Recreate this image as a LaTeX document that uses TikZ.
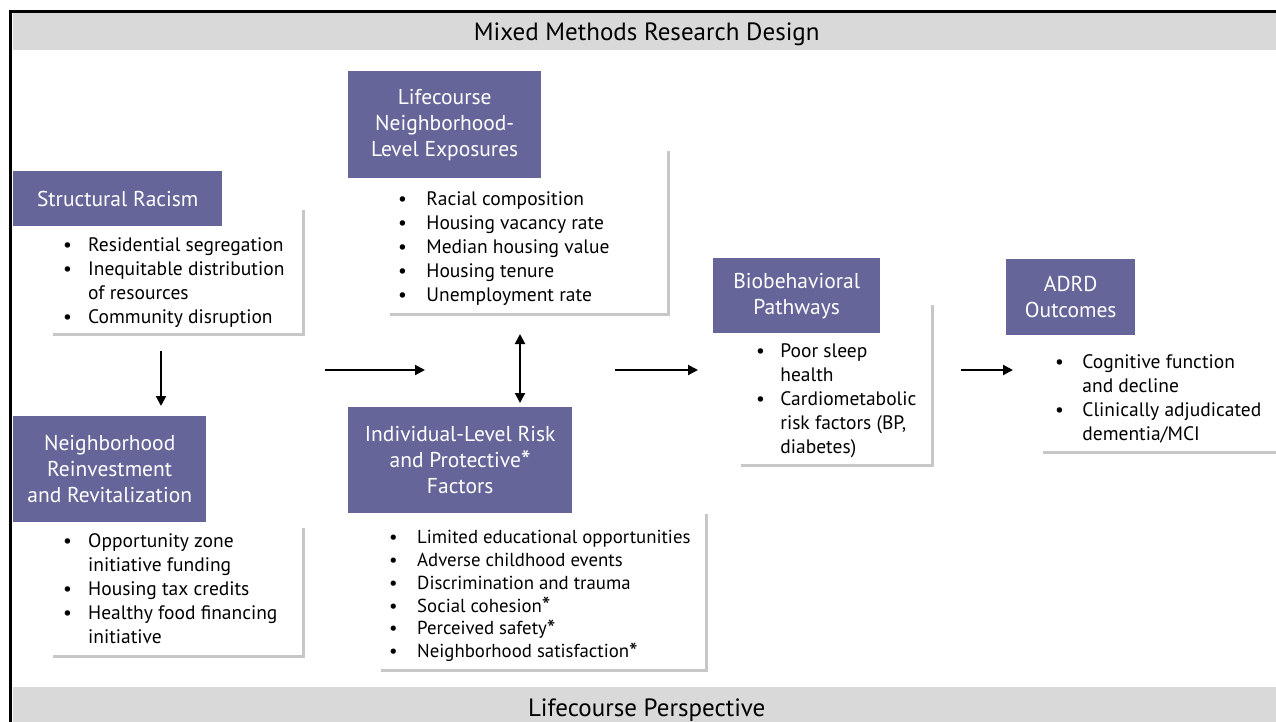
\documentclass[tikz,border=0pt]{standalone}
\usepackage{fontspec}
\usepackage{graphicx}
\setmainfont{PT Sans}
\usetikzlibrary{arrows.meta,shadows}
\definecolor{hdrpurple}{RGB}{101,101,153}
\definecolor{bandgray}{RGB}{217,217,217}
\newcommand{\itm}[1][25pt]{\strut\makebox[#1][l]{\textbullet}}
\newcommand{\cnt}[1][25pt]{\hspace*{#1}}
\newcommand{\astk}{\smash{\raisebox{-.3ex}{\scalebox{1.3}{*}}}}
\begin{document}
\begin{tikzpicture}[x=1pt, y=-1pt,
  header/.style={rectangle, fill=hdrpurple, text=white, align=center, anchor=north west, inner sep=0pt, font=\fontsize{21.5}{26}\selectfont},
  listbox/.style={rectangle, fill=white, anchor=north west, inner sep=0pt, drop shadow={shadow xshift=2.5pt, shadow yshift=-2.5pt, fill=black!55, opacity=.4}},
  items/.style={anchor=north west, inner sep=0pt, align=left, font=\fontsize{19.5}{24}\selectfont},
  band/.style={rectangle, fill=bandgray, anchor=north west, inner sep=0pt, text depth=1pt, font=\fontsize{25}{28}\selectfont},
  flow/.style={-{Triangle[length=10pt,width=10pt]}, line width=2pt}]
\useasboundingbox (0,0) rectangle (1276,721);
\fill[white] (0,0) rectangle (1276,721);

\node[band, minimum width=1267pt, minimum height=37pt] (topband) at (13,13) {Mixed Methods Research Design};
\node[band, minimum width=1267pt, minimum height=42pt] (botband) at (13,687) {Lifecourse Perspective};
\draw[line width=3pt] (10,730) -- (10,11.5) -- (1290,11.5);

\node[listbox, minimum width=252pt, minimum height=126pt] (srbox) at (50,207) {};
\node[listbox, minimum width=252pt, minimum height=130pt] (nrbox) at (50,525) {};
\node[listbox, minimum width=280pt, minimum height=165pt] (lnbox) at (387,148) {};
\node[listbox, minimum width=327pt, minimum height=158pt] (ilbox) at (378,511) {};
\node[listbox, minimum width=193pt, minimum height=162pt] (bbbox) at (738,302) {};
\node[listbox, minimum width=260pt, minimum height=136pt] (adbox) at (1040,315) {};

\node[header, minimum width=209pt, minimum height=55pt] (srhead) at (13,171) {Structural Racism};
\node[header, minimum width=193pt, minimum height=106pt] (nrhead) at (13,416) {Neighborhood\\Reinvestment\\and Revitalization};
\node[header, minimum width=193pt, minimum height=107pt] (lnhead) at (348,71) {Lifecourse\\Neighborhood-\\Level Exposures};
\node[header, minimum width=224pt, minimum height=106pt] (ilhead) at (348,407) {Individual-Level Risk\\and Protective\astk\\Factors};
\node[header, minimum width=167pt, minimum height=75pt] (bbhead) at (713,258) {Biobehavioral\\Pathways};
\node[header, minimum width=129pt, minimum height=76pt] (adhead) at (1006,259) {ADRD\\Outcomes};

\node[items] (srtext) at (63,234.7) {\itm Residential segregation\\ \itm Inequitable distribution\\ \cnt of resources\\ \itm Community disruption};
\node[items] (nrtext) at (63,530.7) {\itm Opportunity zone\\ \cnt initiative funding\\ \itm Housing tax credits\\ \itm Healthy food financing\\ \cnt initiative};
\node[items] (lntext) at (398,188.7) {\itm[23pt] Racial composition\\ \itm[23pt] Housing vacancy rate\\ \itm[23pt] Median housing value\\ \itm[23pt] Housing tenure\\ \itm[23pt] Unemployment rate};
\node[items, font=\fontsize{18.8}{22.8}\selectfont] (iltext) at (389,527.5) {\itm[23pt] Limited educational opportunities\\ \itm[23pt] Adverse childhood events\\ \itm[23pt] Discrimination and trauma\\ \itm[23pt] Social cohesion\astk\\ \itm[23pt] Perceived safety\astk\\ \itm[23pt] Neighborhood satisfaction\astk};
\node[items] (bbtext) at (756,340.7) {\itm[19pt] Poor sleep\\ \cnt[19pt] health\\ \itm[19pt] Cardiometabolic\\ \cnt[19pt] risk factors (BP,\\ \cnt[19pt] diabetes)};
\node[items] (adtext) at (1055,351.2) {\itm[22pt] Cognitive function\\ \cnt[22pt] and decline\\ \itm[22pt] Clinically adjudicated\\ \cnt[22pt] dementia/MCI};

\coordinate (down1) at (161,351);
\coordinate (down2) at (161,406);
\coordinate (right1) at (325,370);
\coordinate (right2) at (425,370);
\coordinate (both1) at (520,334);
\coordinate (both2) at (520,403);
\coordinate (right3) at (615,370);
\coordinate (right4) at (698,370);
\coordinate (right5) at (961,370);
\coordinate (right6) at (1013,370);
\draw[flow] (down1) -- (down2);
\draw[flow] (right1) -- (right2);
\draw[flow, {Triangle[length=10pt,width=10pt]}-{Triangle[length=10pt,width=10pt]}] (both1) -- (both2);
\draw[flow] (right3) -- (right4);
\draw[flow] (right5) -- (right6);
\end{tikzpicture}
\end{document}
